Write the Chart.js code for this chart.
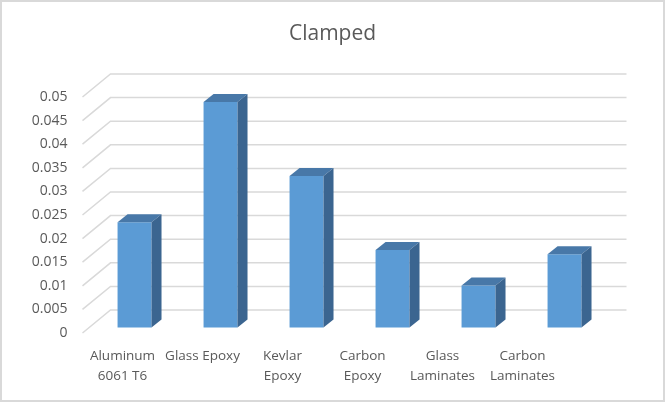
<!DOCTYPE html>
<html>
<head>
<meta charset="utf-8">
<script src="https://cdn.jsdelivr.net/npm/chart.js@4.4.0/dist/chart.umd.min.js"></script>
<style>
  html, body { margin: 0; padding: 0; background: #fff; }
  canvas { display: block; }
</style>
</head>
<body>
<canvas id="chart" width="665" height="402"></canvas>
<script>
const categories = [["Aluminum", "6061 T6"], "Glass Epoxy", ["Kevlar", "Epoxy"], ["Carbon", "Epoxy"], ["Glass", "Laminates"], ["Carbon", "Laminates"]];
const clampedValues = [0.0223, 0.0478, 0.0321, 0.0164, 0.0089, 0.0155];
const yMin = 0;
const yMax = 0.05;
const yStep = 0.005;

// fake 3d: bars sit a bit behind the front plane, gridlines on a back wall
const barShift = { sx: 1.075, tx: 2.85, ty: -5.5 };
const wallShift = { dx: 28, dy: 23, sx: 1.075 };
const barDepth = { dx: 10, dy: 8 };

const textGray = "#595959";
const gridColor = "#d9d9d9";

const threeD = {
  id: "threeD",
  beforeDraw(chart) {
    const ctx = chart.ctx;
    ctx.save();
    ctx.strokeStyle = gridColor;
    ctx.lineWidth = 2;
    ctx.strokeRect(1, 1, chart.width - 2, chart.height - 2);
    ctx.restore();
  },
  beforeDatasetsDraw(chart) {
    const ctx = chart.ctx;
    const area = chart.chartArea;
    const y = chart.scales.y;
    const backRight = area.left + wallShift.dx + (area.right - area.left) * wallShift.sx;
    ctx.save();
    ctx.strokeStyle = gridColor;
    ctx.lineWidth = 1.5;
    y.ticks.forEach((t) => {
      const py = y.getPixelForValue(t.value);
      ctx.beginPath();
      ctx.moveTo(area.left, py);
      ctx.lineTo(area.left + wallShift.dx, py - wallShift.dy);
      ctx.lineTo(backRight, py - wallShift.dy);
      ctx.stroke();
    });
    ctx.restore();
    // move the bars into their own plane
    ctx.save();
    ctx.setTransform(barShift.sx, 0, 0, 1, barShift.tx, barShift.ty);
  },
  afterDatasetsDraw(chart) {
    const ctx = chart.ctx;
    const dx = barDepth.dx / barShift.sx;
    const dy = barDepth.dy;
    chart.getDatasetMeta(0).data.forEach((bar) => {
      const { x, y, base, width } = bar.getProps(["x", "y", "base", "width"], true);
      const l = x - width / 2;
      const r = x + width / 2;
      // top face
      ctx.fillStyle = "#4878a8";
      ctx.beginPath();
      ctx.moveTo(l, y);
      ctx.lineTo(r, y);
      ctx.lineTo(r + dx, y - dy);
      ctx.lineTo(l + dx, y - dy);
      ctx.closePath();
      ctx.fill();
      // side face
      ctx.fillStyle = "#3b6590";
      ctx.beginPath();
      ctx.moveTo(r, y);
      ctx.lineTo(r + dx, y - dy);
      ctx.lineTo(r + dx, base - dy);
      ctx.lineTo(r, base);
      ctx.closePath();
      ctx.fill();
    });
    ctx.restore();
  },
};

new Chart(document.getElementById("chart"), {
  type: "bar",
  data: {
    labels: categories,
    datasets: [
      {
        label: "Clamped",
        data: clampedValues,
        backgroundColor: "#5b9bd5",
        borderWidth: 0,
        barPercentage: 0.395,
        categoryPercentage: 1,
        clip: false,
      },
    ],
  },
  options: {
    responsive: false,
    animation: false,
    layout: { padding: 0 },
    plugins: {
      legend: { display: false },
      tooltip: { enabled: false },
      title: {
        display: true,
        text: "Clamped",
        color: textGray,
        font: { family: "Open Sans", size: 21, weight: "normal", lineHeight: 1.2 },
        padding: { top: 21, bottom: 50.8 },
      },
    },
    scales: {
      x: {
        grid: { display: false, drawTicks: false },
        border: { display: false },
        ticks: {
          color: textGray,
          font: { family: "Open Sans", size: 13.5, lineHeight: 1.45 },
          padding: 13.5,
          maxRotation: 0,
          autoSkip: false,
        },
        afterFit: (scale) => { scale.height = 69; },
      },
      y: {
        min: yMin,
        max: yMax,
        grid: { display: false, drawTicks: false },
        border: { display: false },
        ticks: {
          stepSize: yStep,
          color: textGray,
          font: { family: "Open Sans", size: 14 },
          padding: 15,
          callback: (v) => String(+v.toFixed(3)),
        },
        afterFit: (scale) => { scale.width = 82.5; },
      },
      // empty right axis, keeps room for the back wall
      yRight: {
        position: "right",
        grid: { display: false, drawTicks: false },
        border: { display: false },
        ticks: { display: false },
        afterFit: (scale) => { scale.width = 102.5; },
      },
    },
  },
  plugins: [threeD],
});
</script>
</body>
</html>
